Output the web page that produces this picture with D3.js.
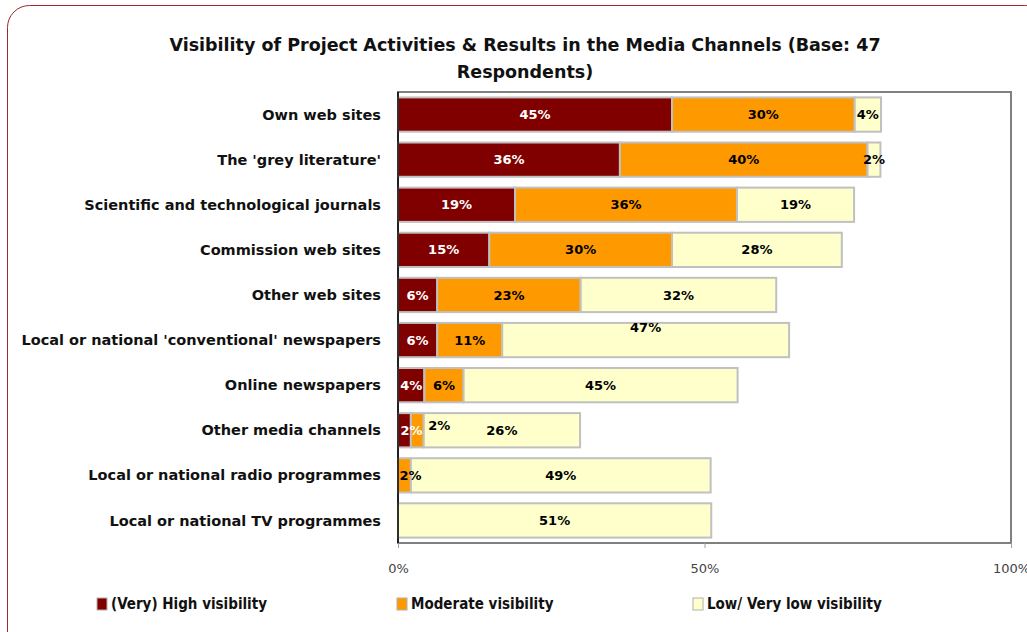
<!DOCTYPE html>
<html>
<head>
  <meta charset='utf-8'>
  <title>Visibility in Media Channels</title>
  <script src="https://d3js.org/d3.v7.min.js"></script>
  <style>
    body { margin: 0; background: #fff; }
    text { font-family: 'DejaVu Sans', sans-serif; }
  </style>
</head>
<body>
  <svg id='chart' width=1027 height=632></svg>

<script>

  let categories = [
    'Own web sites',
    "The 'grey literature'",
    'Scientific and technological journals',
    'Commission web sites',
    'Other web sites',
    "Local or national 'conventional' newspapers",
    'Online newspapers',
    'Other media channels',
    'Local or national radio programmes',
    'Local or national TV programmes'
  ];

  let seriesNames = ['(Very) High visibility', 'Moderate visibility', 'Low/ Very low visibility'];
  let seriesColors = ['#800000', '#FF9900', '#FFFFCC'];
  let labelColors = ['#ffffff', '#000000', '#000000'];

  // percentages
  let highVis     = [44.7, 36.2, 19.1, 14.9, 6.4, 6.4, 4.3, 2.1, 0, 0];
  let moderateVis = [29.8, 40.4, 36.2, 29.8, 23.4, 10.6, 6.4, 2.1, 2.1, 0];
  let lowVis      = [4.3, 2.1, 19.1, 27.7, 31.9, 46.8, 44.7, 25.5, 48.9, 51.1];

  let tickValues = [0, 50, 100];

  let rows = categories.map((c, i) => ({cat: c, s0: highVis[i], s1: moderateVis[i], s2: lowVis[i]}));

  let stack = d3.stack().keys(['s0', 's1', 's2'])(rows);

  let svg = d3.select('#chart');

  // outer frame
  svg.append('rect')
    .attr('x', 7.5).attr('y', 5.5)
    .attr('width', 1040).attr('height', 650)
    .attr('rx', 22)
    .attr('fill', 'none')
    .attr('stroke', '#9b2a2a')
    .attr('stroke-width', 1);

  // title
  let title = svg.append('text')
    .attr('text-anchor', 'middle')
    .attr('font-weight', 'bold')
    .attr('font-size', '17.5px')
    .attr('fill', '#111');
  title.append('tspan').attr('x', 525).attr('y', 51)
    .text('Visibility of Project Activities & Results in the Media Channels (Base: 47');
  title.append('tspan').attr('x', 525).attr('y', 78)
    .text('Respondents)');

  let x = d3.scaleLinear().domain([0, 100]).range([398, 1011]);
  let y = d3.scaleBand().domain(categories).range([92, 543])
    .paddingInner(0.24).paddingOuter(0.12);

  // plot area frame
  svg.append('rect')
    .attr('x', x(0)).attr('y', 92)
    .attr('width', x(100) - x(0)).attr('height', 451)
    .attr('fill', '#fff')
    .attr('stroke', '#808080')
    .attr('stroke-width', 2);

  let groups = svg.selectAll('g.series')
    .data(stack)
    .enter().append('g')
      .attr('class', 'series')
      .attr('fill', (d, i) => seriesColors[i]);

  groups.selectAll('rect')
    .data(d => d.filter(p => p[1] - p[0] > 0))
    .enter().append('rect')
      .attr('x', d => x(d[0]))
      .attr('y', d => y(d.data.cat))
      .attr('width', d => x(d[1]) - x(d[0]))
      .attr('height', y.bandwidth())
      .attr('stroke', '#c0c0c0')
      .attr('stroke-width', 2);

  // left axis line
  svg.append('line')
    .attr('x1', x(0)).attr('x2', x(0))
    .attr('y1', 92).attr('y2', 543)
    .attr('stroke', '#000').attr('stroke-width', 1.5);

  // a few labels sit off-centre in the original
  let nudge = {
    'Local or national \'conventional\' newspapers|2': [0, -13],
    'Other media channels|0': [7, 0],
    'Other media channels|1': [22, -5],
    'Local or national radio programmes|1': [6, 0]
  };

  stack.forEach(function(layer, li) {
    svg.append('g')
      .selectAll('text')
      .data(layer.filter(p => p[1] - p[0] > 0))
      .enter().append('text')
        .attr('x', d => (x(d[0]) + x(d[1])) / 2 + (nudge[d.data.cat + '|' + li] || [0, 0])[0])
        .attr('y', d => y(d.data.cat) + y.bandwidth() / 2 + (nudge[d.data.cat + '|' + li] || [0, 0])[1])
        .attr('dy', '0.35em')
        .attr('text-anchor', 'middle')
        .attr('font-weight', 'bold')
        .attr('font-size', '13px')
        .attr('fill', labelColors[li])
        .text(d => Math.round(d[1] - d[0]) + '%');
  });

  // category labels
  svg.append('g')
    .selectAll('text')
    .data(categories)
    .enter().append('text')
      .attr('x', 381)
      .attr('y', d => y(d) + y.bandwidth() / 2)
      .attr('dy', '0.35em')
      .attr('text-anchor', 'end')
      .attr('font-weight', 'bold')
      .attr('font-size', '14.5px')
      .attr('fill', '#111')
      .text(d => d);

  // x axis
  let xAxis = d3.axisBottom(x)
    .tickValues(tickValues)
    .tickSize(5)
    .tickPadding(16)
    .tickFormat(d => d + '%');

  let ax = svg.append('g')
    .attr('transform', 'translate(0,543)')
    .call(xAxis);
  ax.select('.domain').remove();
  ax.selectAll('line').attr('stroke', '#a0a0a0');
  ax.selectAll('text')
    .attr('font-size', '13px')
    .attr('fill', '#444')
    .style('font-family', "'DejaVu Sans', sans-serif");

  // legend
  let legendX = [97, 397, 693];
  let legend = svg.append('g')
    .selectAll('g')
    .data(seriesNames)
    .enter().append('g')
      .attr('transform', (d, i) => `translate(${legendX[i]},598)`);

  legend.append('rect')
    .attr('width', 10).attr('height', 12)
    .attr('fill', (d, i) => seriesColors[i])
    .attr('stroke', '#b0b0b0').attr('stroke-width', 1);

  legend.append('text')
    .attr('x', 14).attr('y', 6)
    .attr('dy', '0.35em')
    .attr('font-weight', 'bold')
    .attr('font-size', '15px')
    .style('font-family', "'DejaVu Sans Condensed', sans-serif")
    .attr('fill', '#111')
    .text(d => d);

</script>
</body>
</html>
